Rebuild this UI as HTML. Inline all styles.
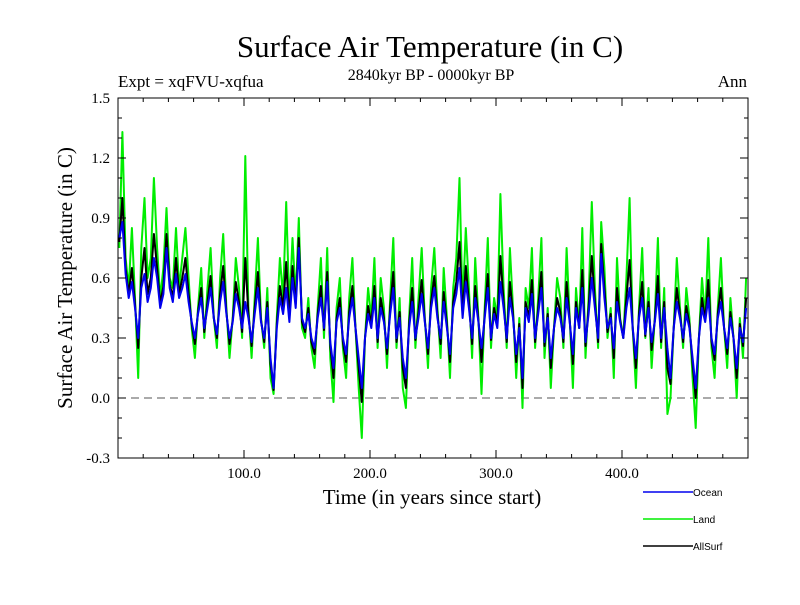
<!DOCTYPE html>
<html><head><meta charset="utf-8"><style>
body{margin:0;background:#fff}
svg text{font-family:"Liberation Serif",serif;fill:#000}
</style></head><body>
<svg id="c" width="800" height="600" xmlns="http://www.w3.org/2000/svg">
<text x="430" y="57" font-size="31" text-anchor="middle">Surface Air Temperature (in C)</text>
<text x="431" y="80" font-size="16" text-anchor="middle">2840kyr BP - 0000kyr BP</text>
<text x="118" y="87" font-size="17">Expt = xqFVU-xqfua</text>
<text x="747" y="87" font-size="17" text-anchor="end">Ann</text>
<text transform="translate(72,278) rotate(-90)" font-size="21" text-anchor="middle">Surface Air Temperature (in C)</text>
<text x="432" y="504" font-size="21" text-anchor="middle">Time (in years since start)</text>
<g id="plot"></g>
<g id="axes"></g>
<g id="legend" font-family="Liberation Sans, sans-serif"></g>
</svg>
<script>
const yStart = 1, yStep = 2.5;
const ocean = [0.80,0.88,0.62,0.50,0.58,0.45,0.30,0.55,0.62,0.48,0.55,0.70,0.60,0.45,0.52,0.75,0.55,0.48,0.62,0.50,
0.55,0.62,0.48,0.38,0.30,0.42,0.50,0.35,0.45,0.55,0.40,0.32,0.48,0.58,0.42,0.30,0.38,0.52,0.45,0.35,
0.48,0.40,0.28,0.42,0.55,0.38,0.30,0.45,0.20,0.05,0.35,0.50,0.42,0.55,0.38,0.60,0.45,0.75,0.40,0.35,
0.42,0.30,0.25,0.40,0.50,0.35,0.58,0.28,0.15,0.38,0.45,0.30,0.22,0.40,0.50,0.35,0.20,0.05,0.30,0.42,
0.35,0.50,0.30,0.45,0.38,0.25,0.42,0.55,0.30,0.40,0.20,0.10,0.35,0.48,0.30,0.40,0.52,0.38,0.25,0.45,
0.55,0.40,0.30,0.48,0.35,0.22,0.45,0.52,0.65,0.40,0.58,0.45,0.30,0.50,0.38,0.25,0.40,0.55,0.30,0.42,
0.35,0.58,0.45,0.30,0.50,0.40,0.22,0.35,0.10,0.45,0.38,0.52,0.30,0.42,0.55,0.28,0.40,0.20,0.35,0.45,
0.40,0.30,0.50,0.38,0.22,0.45,0.35,0.55,0.28,0.42,0.60,0.45,0.30,0.72,0.50,0.35,0.40,0.25,0.48,0.38,
0.30,0.45,0.55,0.35,0.20,0.40,0.50,0.32,0.45,0.28,0.38,0.52,0.30,0.45,0.25,0.10,0.35,0.48,0.40,0.30,
0.42,0.35,0.20,0.05,0.30,0.45,0.38,0.50,0.30,0.22,0.40,0.48,0.35,0.25,0.40,0.30,0.15,0.35,0.28,0.45];
const land = [0.75,1.33,0.70,0.55,0.85,0.50,0.10,0.75,1.00,0.60,0.70,1.10,0.75,0.50,0.65,0.95,0.60,0.55,0.85,0.55,
0.70,0.85,0.60,0.35,0.20,0.45,0.65,0.30,0.55,0.75,0.40,0.25,0.60,0.82,0.45,0.20,0.40,0.70,0.55,0.30,
1.21,0.45,0.20,0.50,0.80,0.40,0.25,0.55,0.10,0.02,0.40,0.70,0.50,0.98,0.45,0.80,0.50,0.90,0.35,0.30,
0.50,0.25,0.15,0.45,0.70,0.30,0.75,0.20,-0.02,0.45,0.60,0.25,0.10,0.50,0.70,0.35,0.05,-0.20,0.30,0.55,
0.40,0.70,0.25,0.60,0.45,0.15,0.50,0.80,0.25,0.50,0.05,-0.05,0.40,0.70,0.25,0.50,0.75,0.40,0.15,0.55,
0.75,0.45,0.20,0.65,0.40,0.10,0.55,0.70,1.10,0.45,0.85,0.55,0.20,0.70,0.40,0.02,0.45,0.80,0.25,0.50,
0.40,1.02,0.55,0.25,0.75,0.45,0.10,0.40,-0.05,0.55,0.45,0.75,0.25,0.50,0.80,0.20,0.45,0.05,0.35,0.60,
0.50,0.25,0.75,0.40,0.05,0.55,0.35,0.85,0.20,0.50,0.98,0.55,0.25,0.88,0.65,0.30,0.45,0.10,0.70,0.40,
0.30,0.60,1.00,0.35,0.05,0.45,0.75,0.30,0.55,0.15,0.40,0.80,0.25,0.55,-0.08,0.00,0.35,0.70,0.45,0.25,
0.55,0.40,0.10,-0.15,0.30,0.60,0.40,0.80,0.25,0.10,0.45,0.70,0.35,0.15,0.50,0.30,0.00,0.40,0.20,0.60];
const allSurf = [0.78,1.00,0.65,0.52,0.65,0.47,0.25,0.60,0.75,0.52,0.60,0.82,0.65,0.47,0.56,0.82,0.57,0.50,0.70,0.52,
0.60,0.70,0.52,0.37,0.27,0.43,0.55,0.33,0.48,0.61,0.40,0.30,0.52,0.66,0.43,0.27,0.39,0.58,0.48,0.33,
0.70,0.42,0.26,0.45,0.63,0.39,0.28,0.48,0.17,0.04,0.37,0.56,0.45,0.68,0.40,0.66,0.47,0.80,0.38,0.33,
0.45,0.28,0.22,0.42,0.56,0.34,0.63,0.26,0.10,0.40,0.50,0.28,0.18,0.43,0.56,0.35,0.15,-0.02,0.30,0.46,
0.37,0.56,0.28,0.50,0.40,0.22,0.45,0.63,0.28,0.43,0.15,0.05,0.37,0.55,0.29,0.43,0.59,0.39,0.22,0.48,
0.61,0.42,0.27,0.53,0.37,0.18,0.48,0.58,0.78,0.42,0.66,0.48,0.27,0.56,0.39,0.18,0.42,0.62,0.29,0.45,
0.37,0.71,0.48,0.28,0.58,0.42,0.18,0.37,0.05,0.48,0.40,0.59,0.28,0.45,0.63,0.26,0.42,0.15,0.35,0.50,
0.43,0.28,0.58,0.39,0.17,0.48,0.35,0.64,0.26,0.45,0.71,0.48,0.28,0.77,0.55,0.33,0.42,0.20,0.55,0.39,
0.30,0.50,0.69,0.35,0.15,0.42,0.58,0.31,0.48,0.24,0.39,0.61,0.28,0.48,0.15,0.07,0.35,0.55,0.42,0.28,
0.46,0.37,0.17,0.00,0.30,0.50,0.39,0.59,0.28,0.19,0.42,0.55,0.35,0.22,0.43,0.30,0.10,0.37,0.26,0.50];
const xTicks = [100,200,300,400];
const xTickLabels = ["100.0","200.0","300.0","400.0"];
const yTicks = [-0.3,0,0.3,0.6,0.9,1.2,1.5];
const yTickLabels = ["-0.3","0.0","0.3","0.6","0.9","1.2","1.5"];
const seriesNames = ["Land","AllSurf","Ocean"];

const L=118,R=748,T=98,B=458,xMin=0,xMax=500,yMin=-0.3,yMax=1.5;
const xs=v=>L+(v-xMin)/(xMax-xMin)*(R-L);
const ys=v=>B-(v-yMin)/(yMax-yMin)*(B-T);
const NS="http://www.w3.org/2000/svg";
function mk(tag,attrs,parent){const e=document.createElementNS(NS,tag);for(const k in attrs)e.setAttribute(k,attrs[k]);parent.appendChild(e);return e;}
const plot=document.getElementById('plot'),axes=document.getElementById('axes'),legend=document.getElementById('legend');

let z=mk('line',{x1:L,x2:R,y1:ys(0),y2:ys(0),stroke:'#555','stroke-width':1,'stroke-dasharray':'8,5'},plot);



const series=[[land,'#00ee00','land-line'],[allSurf,'#000','allsurf-line'],[ocean,'#0000ee','ocean-line']];
series.forEach(([arr,col,nm])=>{
  const d=arr.map((v,i)=>(i?'L':'M')+xs(yStart+i*yStep).toFixed(1)+','+ys(v).toFixed(1)).join('');
  const p=mk('path',{d:d,fill:'none',stroke:col,'stroke-width':2,'stroke-linejoin':'round'},plot);
  
  
});

const frame=mk('rect',{x:L,y:T,width:R-L,height:B-T,fill:'none',stroke:'#000','stroke-width':1},axes);


for(let v=20;v<500;v+=20){
  const big=v%100===0,len=big?8:4;
  mk('line',{x1:xs(v),x2:xs(v),y1:B,y2:B-len,stroke:'#000'},axes);
  mk('line',{x1:xs(v),x2:xs(v),y1:T,y2:T+len,stroke:'#000'},axes);
}
xTicks.forEach((v,i)=>{
  const t=mk('text',{x:xs(v),y:B+20,'font-size':15,'text-anchor':'middle'},axes);
  t.textContent=xTickLabels[i];
  
  
});
for(let k=-3;k<=15;k++){
  const v=k/10,big=k%3===0,len=big?8:4;
  mk('line',{x1:L,x2:L+len,y1:ys(v),y2:ys(v),stroke:'#000'},axes);
  mk('line',{x1:R,x2:R-len,y1:ys(v),y2:ys(v),stroke:'#000'},axes);
}
yTicks.forEach((v,i)=>{
  const t=mk('text',{x:L-8,y:ys(v)+5,'font-size':15,'text-anchor':'end'},axes);
  t.textContent=yTickLabels[i];
  
  
});

const leg=[["Ocean","#0000ee",492],["Land","#00ee00",519],["AllSurf","#000",546]];
leg.forEach(([n,c,y])=>{
  const g=mk('g',{},legend);
  
  
  mk('line',{x1:643,x2:693,y1:y,y2:y,stroke:c,'stroke-width':1.5},g);
  const t=mk('text',{x:693,y:y+4,'font-size':10,style:'font-family:"Liberation Sans",sans-serif'},g);
  t.textContent=n;
});
</script>
</body></html>
